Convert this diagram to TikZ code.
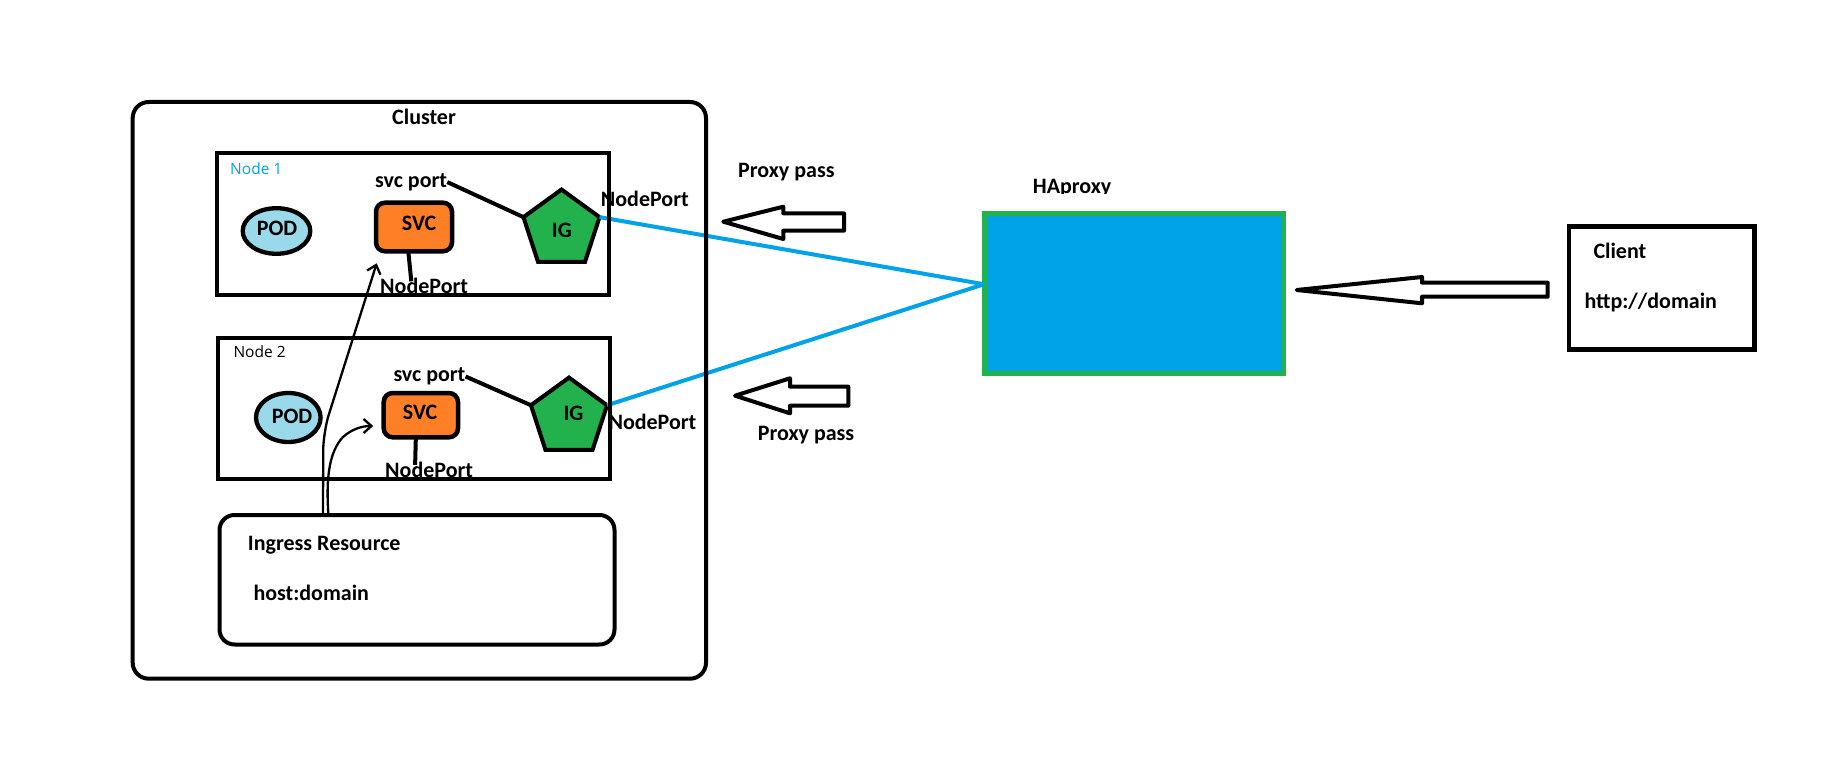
\documentclass[tikz,border=0pt]{standalone}
\usepackage{fontspec}
\setmainfont{Carlito}
\newfontfamily\nfont{Open Sans}
\usetikzlibrary{shapes.geometric,arrows.meta}
\definecolor{podblue}{HTML}{99D9EA}
\definecolor{svcorange}{HTML}{FF7F27}
\definecolor{iggreen}{HTML}{22B14C}
\definecolor{linkblue}{HTML}{00A2E8}
\tikzset{
 box/.style={draw, line width=4pt, inner sep=0pt, outer sep=0pt},
 lbl/.style={font=\fontsize{22}{26}\selectfont\bfseries, inner sep=0pt, anchor=base west},
 nlbl/.style={font=\nfont\fontsize{15.5}{18}\selectfont, inner sep=0pt, anchor=base west},
 podshape/.style={ellipse, draw, line width=4.3pt, fill=podblue, inner sep=0pt, outer sep=0pt},
 svcshape/.style={rectangle, rounded corners=9pt, draw, line width=4.5pt, fill=svcorange, inner sep=0pt, outer sep=0pt},
 igshape/.style={regular polygon, regular polygon sides=5, draw, line width=4pt, fill=iggreen, inner sep=0pt, outer sep=0pt, minimum size=80pt},
 wire/.style={line width=4pt},
 bluewire/.style={line width=4pt, draw=linkblue},
 handarrow/.style={line width=2.3pt, line cap=round, -{Straight Barb[length=8pt,width=14pt]}},
 blockarrow/.style={draw, line width=4pt, line join=round, fill=white},
}
\begin{document}
\begin{tikzpicture}[x=1pt,y=-1pt]
\useasboundingbox (0,0) rectangle (1826,762);
\fill[white] (0,0) rectangle (1826,762);

% labels partly covered by node boxes
\node[lbl] (np1) at (380,293) {NodePort};
\node[lbl] (np2) at (385,477.5) {NodePort};

% ingress controllers and HAproxy
\node[igshape] (ig1) at (561.5,229.5) {};
\node[igshape] (ig2) at (569,417.6) {};
\node[draw=iggreen, fill=linkblue, line width=5pt, inner sep=0pt, outer sep=0pt,
      minimum width=299pt, minimum height=159.5pt] (ha) at (1133.5,293.25) {};
\draw[bluewire] (ig1.corner 5) -- ([yshift=9pt]ha.west);
\draw[bluewire] (ig2.corner 5) -- ([yshift=9pt]ha.west);

% containers
\node[box, rounded corners=16pt, minimum width=573.3pt, minimum height=576.7pt] (cluster) at (419.35,390.35) {};
\node[box, minimum width=392.3pt, minimum height=142.3pt] (node1) at (412.85,223.85) {};
\node[box, minimum width=392.2pt, minimum height=141.2pt] (node2) at (413.9,408.4) {};
\node[box, rounded corners=15pt, minimum width=395pt, minimum height=129.5pt] (ingress) at (417,579.75) {};

% node 1 content
\node[podshape, minimum width=67.6pt, minimum height=45.6pt] (pod1) at (276.5,231) {};
\node[svcshape, minimum width=76pt, minimum height=48.6pt] (svc1) at (414,227) {};
\node[lbl] (pod1t) at (256.7,236) {POD};
\node[lbl] (svc1t) at (401.7,230.7) {SVC};
\node[lbl] (ig1t) at (551.7,237.3) {IG};

% node 2 content
\node[podshape, minimum width=64.6pt, minimum height=49pt] (pod2) at (288.3,417.5) {};
\node[svcshape, minimum width=74.3pt, minimum height=44.3pt] (svc2) at (420.85,415.15) {};
\node[lbl] (pod2t) at (271.7,423.3) {POD};
\node[lbl] (svc2t) at (402.7,419.3) {SVC};
\node[lbl] (ig2t) at (563.3,420) {IG};

% texts
\node[lbl] (clt) at (392,124.3) {Cluster};
\node[nlbl, text=linkblue] (n1t) at (230,175) {Node 1};
\node[nlbl] (n2t) at (233.3,357.3) {Node 2};
\node[lbl] (sp1) at (375,187.3) {svc port};
\node[lbl] (sp2) at (393.3,381.7) {svc port};
\node[lbl] (npr1) at (600.7,206.7) {NodePort};
\node[lbl] (npr2) at (608.3,429.3) {NodePort};
\node[lbl] (pp1) at (738,177.7) {Proxy pass};
\node[lbl] (pp2) at (757.7,440) {Proxy pass};
\node[lbl] (irt) at (247.7,550) {Ingress Resource};
\node[lbl] (hdt) at (253.3,600) {host:domain};

% connectors inside nodes
\draw[wire] ([xshift=-5.7pt]svc1.south) -- ([xshift=-12.8pt,yshift=-4pt]np1.north);
\draw[wire] ([xshift=-5pt]svc2.south) -- ([xshift=-14pt,yshift=-3pt]np2.north);
\draw[wire] (sp1.east) -- (ig1.corner 2);
\draw[wire] (sp2.east) -- (ig2.corner 2);

% hand-drawn arrows from the ingress resource
\coordinate (a1) at (323,513);
\coordinate (a2) at (328.3,513);
\coordinate (t1) at (376.7,263.3);
\coordinate (t2) at (373.3,426);
\draw[handarrow, rounded corners=18pt] (a1) -- (323.3,432) -- (t1);
\draw[handarrow] (a2) .. controls (326,478) and (329,452) .. (343,437) .. controls (352,429) and (362,426) .. (t2);

% block arrows
\draw[blockarrow] (723.3,221.7) -- (783.3,206.7) -- (783.3,213.3) -- (844,213.3) -- (844,230.7) -- (783.3,230.7) -- (783.3,239) -- cycle;
\draw[blockarrow] (735,395.7) -- (790,378.3) -- (790,386.7) -- (848.3,386.7) -- (848.3,405.7) -- (790,405.7) -- (790,413.3) -- cycle;
\draw[blockarrow] (1296.7,290) -- (1422,277) -- (1422,282.7) -- (1547.7,282.7) -- (1547.7,296.7) -- (1422,296.7) -- (1422,303.3) -- cycle;

% HAproxy label (cut at the bottom as in the drawing)
\begin{scope}
\clip (1000,150) rectangle (1200,194);
\node[lbl] (hat) at (1032.7,193.3) {HAproxy};
\end{scope}

% client
\node[box, line width=4.7pt, minimum width=185.5pt, minimum height=122.6pt] (client) at (1661.75,288) {};
\node[lbl] (clientt) at (1593.3,258.3) {Client};
\node[lbl] (urlt) at (1584.3,308.3) {http://domain};
\end{tikzpicture}
\end{document}
